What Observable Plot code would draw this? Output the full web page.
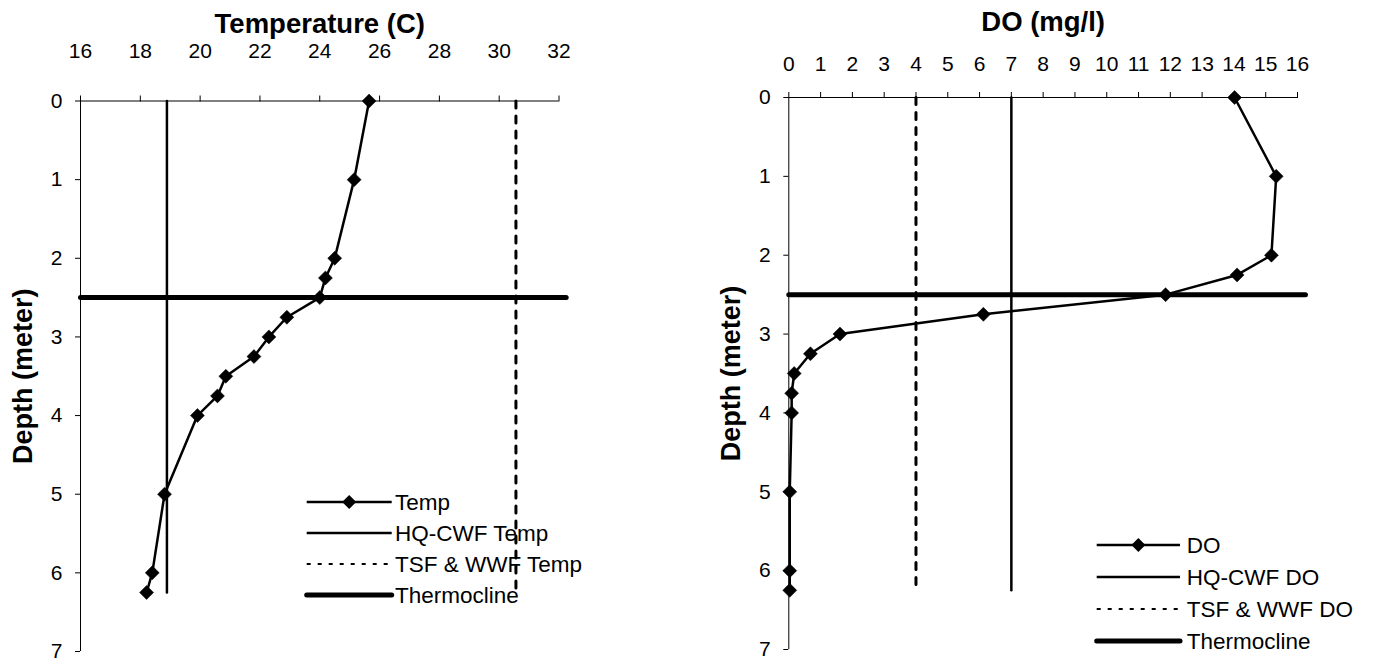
<!DOCTYPE html>
<html>
<head>
<meta charset="utf-8">
<script src="https://cdn.jsdelivr.net/npm/d3@7"></script>
<script src="https://cdn.jsdelivr.net/npm/@observablehq/plot@0.6"></script>
<style>
  body { margin: 0; background: #fff; }
  #wrap { position: relative; width: 1373px; height: 660px; font-family: "Liberation Sans", Arial, sans-serif; }
  #wrap > svg { position: absolute; top: 0; }
</style>
</head>
<body>
<div id="wrap"></div>
<script>
// ---- data ----
const depths     = [0, 1, 2, 2.25, 2.5, 2.75, 3, 3.25, 3.5, 3.75, 4, 5, 6, 6.25];
const tempValues = [25.65, 25.15, 24.5, 24.19, 24.0, 22.9, 22.3, 21.8, 20.86, 20.58, 19.91, 18.81, 18.40, 18.21];
const doValues   = [14.02, 15.33, 15.18, 14.1, 11.85, 6.12, 1.61, 0.68, 0.17, 0.09, 0.09, 0.03, 0.03, 0.03];

const tempTicks  = [16, 18, 20, 22, 24, 26, 28, 30, 32];
const doTicks    = [0, 1, 2, 3, 4, 5, 6, 7, 8, 9, 10, 11, 12, 13, 14, 15, 16];
const depthTicks = [0, 1, 2, 3, 4, 5, 6, 7];

const standardDepths = [0, 6.25];
const hqTemp = 18.89, tsfTemp = 30.56;
const hqDO = 7, tsfDO = 4;
const thermoDepth = 2.5;
const thermoTempX = [16, 32.24];
const thermoDOX   = [0, 16.25];

const tempLegend = ["Temp", "HQ-CWF Temp", "TSF & WWF Temp", "Thermocline"];
const doLegend   = ["DO", "HQ-CWF DO", "TSF & WWF DO", "Thermocline"];

// ---- chart builder ----
function chart(cfg) {
  const profile = depths.map((d, i) => ({x: cfg.values[i], y: d}));
  const hq  = standardDepths.map(d => ({x: cfg.hq, y: d}));
  const tsf = standardDepths.map(d => ({x: cfg.tsf, y: d}));
  const th  = cfg.thermoX.map(x => ({x, y: thermoDepth}));
  return Plot.plot({
    width: cfg.width, height: 660,
    marginLeft: cfg.ml, marginRight: cfg.mr, marginTop: cfg.mt, marginBottom: cfg.mb,
    style: {fontFamily: "'Liberation Sans', Arial, sans-serif", color: "black", background: "white", overflow: "visible"},
    x: {domain: cfg.domain},
    y: {domain: [0, 7], reverse: true},
    marks: [
      Plot.ruleY([0], {stroke: "black", strokeWidth: 1}),
      Plot.ruleX([cfg.domain[0]], {stroke: "black", strokeWidth: 1}),
      Plot.axisX(cfg.ticks, {anchor: "top", tickSize: 6, tickPadding: cfg.xPad, fontSize: 21, label: null, tickFormat: d => String(d)}),
      Plot.axisY(depthTicks, {anchor: "left", tickSize: 5, tickPadding: 13, fontSize: 21, label: null, tickFormat: d => String(d)}),
      Plot.text([cfg.title], {text: d => d, frameAnchor: "top", lineAnchor: "middle", textAnchor: "middle", dy: cfg.titleDy, fontSize: 27.5, fontWeight: "bold"}),
      Plot.text(["Depth (meter)"], {text: d => d, frameAnchor: "left", lineAnchor: "middle", textAnchor: "middle", dx: cfg.ylabDx, rotate: -90, fontSize: 27, fontWeight: "bold"}),
      Plot.line(hq, {x: "x", y: "y", stroke: "black", strokeWidth: 2.5}),
      Plot.line(tsf, {x: "x", y: "y", stroke: "black", strokeWidth: 3, strokeDasharray: "7,8"}),
      Plot.line(th, {x: "x", y: "y", stroke: "black", strokeWidth: 5, strokeLinecap: "round"}),
      Plot.line(profile, {x: "x", y: "y", stroke: "black", strokeWidth: 2.5}),
      Plot.dot(profile, {x: "x", y: "y", symbol: "diamond2", r: 6.3, fill: "black", stroke: "black", strokeWidth: 0.5})
    ]
  });
}

const wrap = document.getElementById("wrap");

const left = chart({
  width: 686, ml: 80, mr: 127.5, mt: 100.5, mb: 9,
  domain: [16, 32], ticks: tempTicks, values: tempValues,
  hq: hqTemp, tsf: tsfTemp, thermoX: thermoTempX,
  title: "Temperature (C)", titleDy: -77, ylabDx: -57, xPad: 37
});
left.style.left = "0px";
wrap.appendChild(left);

const right = chart({
  width: 687, ml: 102.3, mr: 76, mt: 97, mb: 11,
  domain: [0, 16], ticks: doTicks, values: doValues,
  hq: hqDO, tsf: tsfDO, thermoX: thermoDOX,
  title: "DO (mg/l)", titleDy: -75, ylabDx: -57, xPad: 21
});
right.style.left = "686px";
wrap.appendChild(right);

// ---- legends ----
const ov = d3.select(wrap).append("svg")
  .attr("width", 1373).attr("height", 660)
  .style("left", "0px").style("pointer-events", "none");

function legend(x0, x1, tx, ys, labels) {
  const g = ov.append("g");
  const kinds = ["marker", "solid", "dash", "thick"];
  labels.forEach((lab, i) => {
    const y = ys[i], k = kinds[i];
    const line = g.append("line").attr("x1", x0).attr("x2", x1).attr("y1", y).attr("y2", y)
      .attr("stroke", "black").attr("stroke-width", k === "thick" ? 5 : 2.5);
    if (k === "dash") line.attr("stroke-dasharray", "4,7").attr("stroke-width", 2.2);
    if (k === "thick") line.attr("stroke-linecap", "round");
    if (k === "marker") {
      const cx = (x0 + x1) / 2, r = 7;
      g.append("path").attr("d", `M${cx},${y - r}L${cx + r},${y}L${cx},${y + r}L${cx - r},${y}Z`).attr("fill", "black");
    }
    g.append("text").attr("x", tx).attr("y", y).attr("dy", "0.35em")
      .attr("font-size", 22.5).attr("font-family", "'Liberation Sans', Arial, sans-serif").text(lab);
  });
}
legend(306.7, 391.7, 395, [502, 533, 564, 595], tempLegend);
legend(1096.7, 1180, 1186.7, [545, 577, 609, 641], doLegend);
</script>
</body>
</html>
